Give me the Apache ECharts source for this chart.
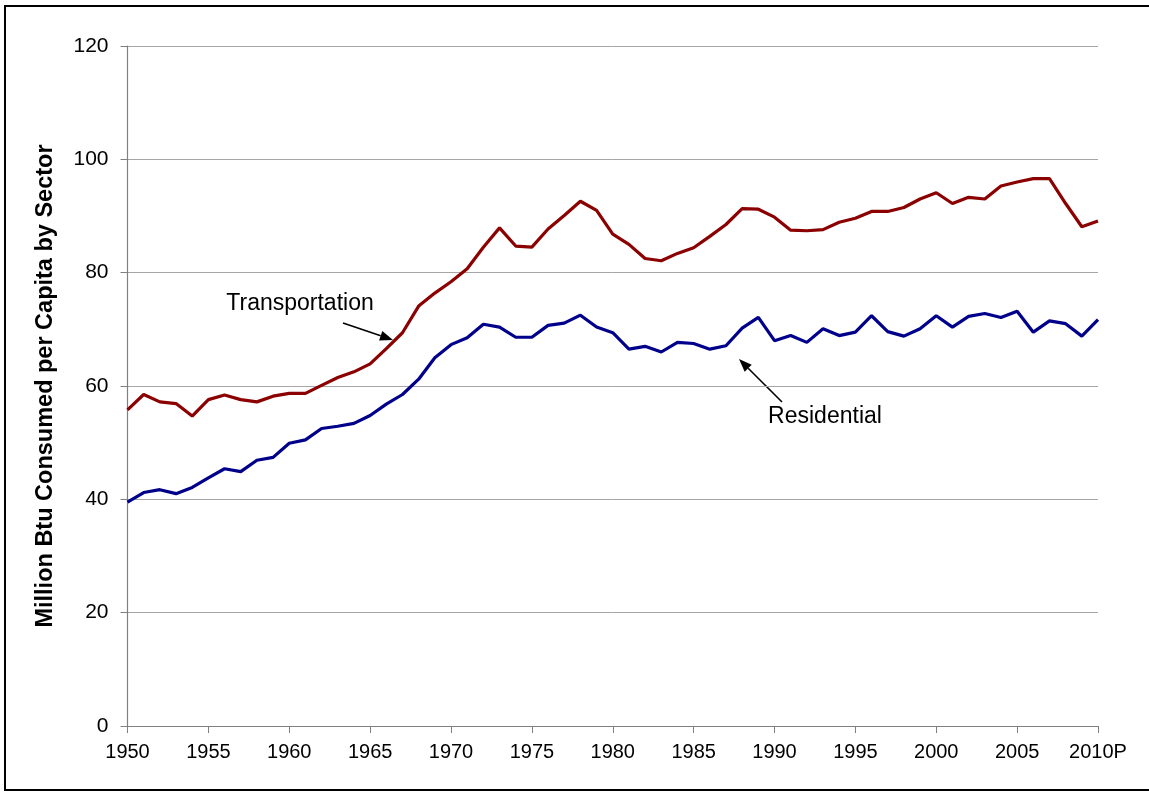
<!DOCTYPE html>
<html>
<head>
<meta charset="utf-8">
<script src="https://cdn.jsdelivr.net/npm/echarts@6/dist/echarts.min.js"></script>
<style>
html,body{margin:0;padding:0;background:#fff;}
#chart{width:1149px;height:792px;}
</style>
</head>
<body>
<div id="chart"></div>
<script>
const years = [];
for (let y = 1950; y <= 2010; y++) years.push(String(y));

const transportation = [
  55.8, 58.5, 57.2, 56.9, 54.7, 57.6, 58.4, 57.6, 57.2, 58.2,
  58.7, 58.7, 60.1, 61.5, 62.5, 63.9, 66.6, 69.4, 74.1, 76.4,
  78.4, 80.7, 84.5, 87.9, 84.7, 84.5, 87.7, 90.1, 92.6, 91.0,
  86.8, 85.0, 82.5, 82.1, 83.4, 84.4, 86.4, 88.5, 91.3, 91.2,
  89.8, 87.5, 87.4, 87.6, 88.9, 89.6, 90.8, 90.8, 91.5, 93.0,
  94.1, 92.2, 93.3, 93.0, 95.3, 96.0, 96.6, 96.6, 92.2, 88.1,
  89.1
];

const residential = [
  39.5, 41.2, 41.7, 41.0, 42.1, 43.8, 45.4, 44.9, 46.9, 47.4,
  49.9, 50.5, 52.5, 52.9, 53.4, 54.8, 56.8, 58.5, 61.2, 65.0,
  67.3, 68.5, 70.9, 70.4, 68.6, 68.6, 70.7, 71.1, 72.5, 70.4,
  69.4, 66.5, 67.0, 66.0, 67.7, 67.5, 66.5, 67.1, 70.2, 72.1,
  68.0, 68.9, 67.7, 70.1, 68.9, 69.5, 72.4, 69.6, 68.8, 70.1,
  72.4, 70.4, 72.3, 72.8, 72.1, 73.2, 69.5, 71.5, 71.0, 68.8,
  71.7
];

const yTicks = [0, 20, 40, 60, 80, 100, 120];
const yTitle = 'Million Btu Consumed per Capita by Sector';

const FONT = '"Liberation Sans", Arial, sans-serif';

function arrow(x1, y1, x2, y2) {
  const dx = x2 - x1, dy = y2 - y1;
  const len = Math.sqrt(dx * dx + dy * dy);
  const ux = dx / len, uy = dy / len;
  const hl = 13, hw = 5;
  const bx = x2 - ux * hl, by = y2 - uy * hl;
  return [
    { type: 'line', shape: { x1: x1, y1: y1, x2: bx, y2: by }, style: { stroke: '#000', lineWidth: 1.6 } },
    { type: 'polygon', shape: { points: [[x2, y2], [bx - uy * hw, by + ux * hw], [bx + uy * hw, by - ux * hw]] }, style: { fill: '#000' } }
  ];
}

const chart = echarts.init(document.getElementById('chart'), null, { renderer: 'canvas' });
chart.setOption({
  animation: false,
  backgroundColor: '#fff',
  grid: { left: 127.5, right: 51, top: 46, bottom: 66, containLabel: false },
  xAxis: {
    type: 'category',
    data: years,
    boundaryGap: false,
    axisLine: { lineStyle: { color: '#808080', width: 1.2 } },
    axisTick: { show: true, interval: 4, length: 7, lineStyle: { color: '#808080' } },
    axisLabel: {
      interval: 4,
      margin: 16,
      fontFamily: FONT,
      fontSize: 20,
      color: '#000',
      formatter: function (v) { return v === '2010' ? '2010P' : v; }
    },
    splitLine: { show: false }
  },
  yAxis: {
    type: 'value',
    min: yTicks[0],
    max: yTicks[yTicks.length - 1],
    interval: 20,
    name: yTitle,
    nameLocation: 'middle',
    nameGap: 70,
    nameRotate: 90,
    nameTextStyle: { fontFamily: FONT, fontSize: 23.5, fontWeight: 'bold', color: '#000' },
    axisLine: { show: true, lineStyle: { color: '#808080', width: 1.2 } },
    axisTick: { show: true, length: 7, lineStyle: { color: '#808080' } },
    axisLabel: { margin: 19, fontFamily: FONT, fontSize: 21, color: '#000' },
    splitLine: { show: true, lineStyle: { color: '#a6a6a6', width: 1 } }
  },
  series: [
    {
      name: 'Transportation',
      type: 'line',
      data: transportation,
      showSymbol: false,
      lineStyle: { color: '#8b0000', width: 3.2 },
      itemStyle: { color: '#8b0000' }
    },
    {
      name: 'Residential',
      type: 'line',
      data: residential,
      showSymbol: false,
      lineStyle: { color: '#00008b', width: 3.2 },
      itemStyle: { color: '#00008b' }
    }
  ],
  graphic: [
    { type: 'rect', shape: { x: 5, y: 6, width: 1160, height: 784 }, style: { fill: null, stroke: '#000', lineWidth: 2 }, silent: true },
    { type: 'text', x: 300, y: 304, style: { text: 'Transportation', font: '23px ' + FONT, fill: '#000', textAlign: 'center', textVerticalAlign: 'middle' } },
    { type: 'text', x: 825, y: 417, style: { text: 'Residential', font: '23px ' + FONT, fill: '#000', textAlign: 'center', textVerticalAlign: 'middle' } }
  ].concat(arrow(343, 323, 393, 340)).concat(arrow(782, 402, 739, 359))
});
</script>
</body>
</html>
